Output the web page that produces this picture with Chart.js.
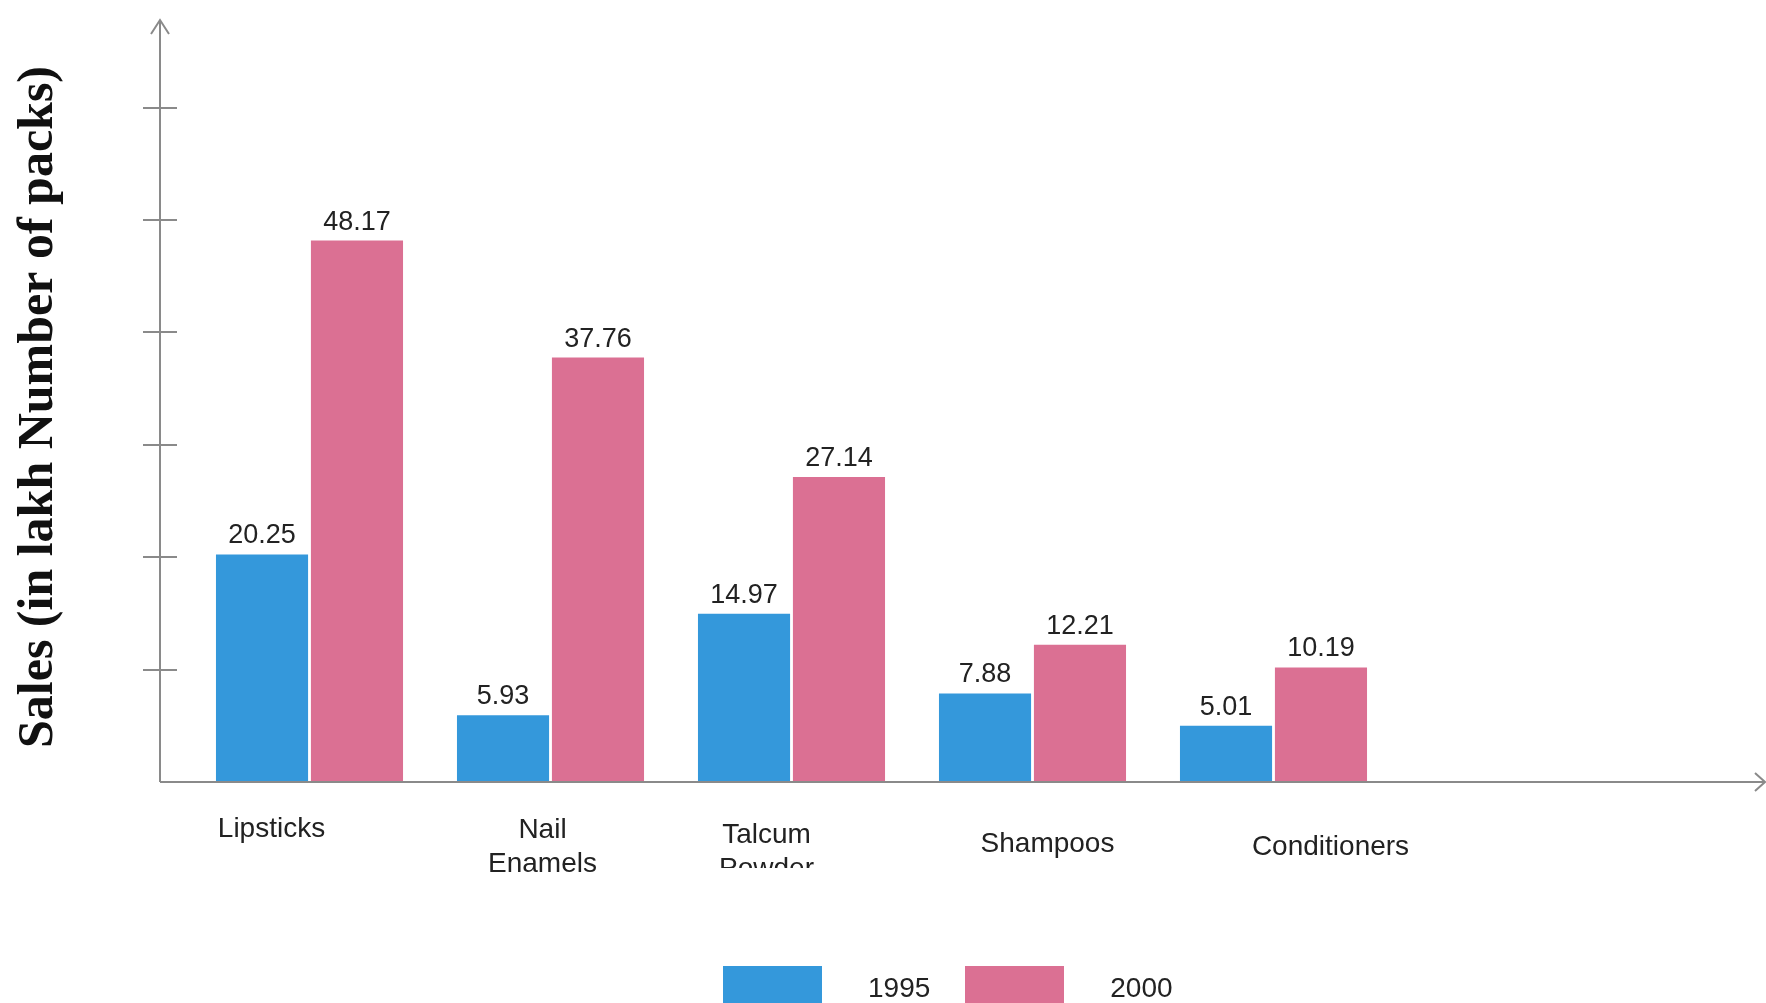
<!DOCTYPE html>
<html>
<head>
<meta charset="utf-8">
<title>Sales of cosmetics</title>
<script src="https://cdn.jsdelivr.net/npm/chart.js@4.4.0/dist/chart.umd.min.js"></script>
<style>
  html, body { margin: 0; padding: 0; background: #fff; overflow: hidden; }
  #wrap { position: relative; width: 1766px; height: 1003px; overflow: hidden; }
  #legend { position: absolute; left: 723px; top: 966px; display: flex; align-items: flex-start;
            font: 28px "Liberation Sans", Arial, sans-serif; color: #222; }
  #legend .box { width: 99px; height: 50px; }
  #legend .lbl { line-height: 44px; margin: 0 35px 0 46px; }
</style>
</head>
<body>
<div id="wrap">
  <canvas id="salesChart" width="1766" height="1003"></canvas>
  <div id="legend"></div>
</div>
<script>
  "use strict";

  // data
  const categories = ["Lipsticks", "Nail Enamels", "Talcum Powder", "Shampoos", "Conditioners"];
  const years = ["1995", "2000"];
  const sales1995 = [20.25, 5.93, 14.97, 7.88, 5.01];
  const sales2000 = [48.17, 37.76, 27.14, 12.21, 10.19];
  const yTicks = [10, 20, 30, 40, 50, 60];
  const yTitle = "Sales (in lakh Number of packs)";

  const colors = ["#3498db", "#db7093"];

  // the category labels are placed by hand in the original, nudged from the bar centres
  const labelDx = [-38, -8, -25, 15, 57];
  const labelY = [829, 830, 835, 844, 847];
  const labelClip = [null, null, 868, null, null];

  const axisX = 160;

  const drawExtras = {
    id: 'drawExtras',
    afterDraw(chart) {
      const { ctx, chartArea, scales: { x, y } } = chart;
      const y0 = y.getPixelForValue(0);
      const W = chart.width;

      ctx.save();
      ctx.strokeStyle = '#8a8a8a';
      ctx.lineWidth = 2;

      // y axis with arrow
      ctx.beginPath();
      ctx.moveTo(axisX, y0);
      ctx.lineTo(axisX, chartArea.top);
      ctx.moveTo(axisX - 9, chartArea.top + 14);
      ctx.lineTo(axisX, chartArea.top);
      ctx.lineTo(axisX + 9, chartArea.top + 14);
      ctx.stroke();

      // x axis with arrow
      ctx.beginPath();
      ctx.moveTo(axisX, y0);
      ctx.lineTo(W - 1, y0);
      ctx.moveTo(W - 11, y0 - 9);
      ctx.lineTo(W - 1, y0);
      ctx.lineTo(W - 11, y0 + 9);
      ctx.stroke();

      // tick marks crossing the y axis
      ctx.beginPath();
      yTicks.forEach(v => {
        const py = Math.round(y.getPixelForValue(v));
        ctx.moveTo(axisX - 17, py);
        ctx.lineTo(axisX + 17, py);
      });
      ctx.stroke();

      // value labels
      ctx.fillStyle = '#222';
      ctx.font = '27px "Liberation Sans", Arial, sans-serif';
      ctx.textAlign = 'center';
      ctx.textBaseline = 'alphabetic';
      chart.data.datasets.forEach((ds, di) => {
        chart.getDatasetMeta(di).data.forEach((bar, i) => {
          ctx.fillText(ds.data[i].toFixed(2), bar.x, bar.y - 11);
        });
      });

      // category labels
      ctx.font = '28px "Liberation Sans", Arial, sans-serif';
      ctx.textBaseline = 'middle';
      categories.forEach((name, i) => {
        const cx = x.getPixelForValue(i) + labelDx[i];
        ctx.save();
        if (labelClip[i]) {
          ctx.beginPath();
          ctx.rect(cx - 150, 0, 300, labelClip[i]);
          ctx.clip();
        }
        name.split(' ').forEach((line, li) => {
          ctx.fillText(line, cx, labelY[i] + li * 34);
        });
        ctx.restore();
      });

      // y axis title
      ctx.save();
      ctx.translate(52, 407);
      ctx.rotate(-Math.PI / 2);
      ctx.fillStyle = '#111';
      ctx.font = 'bold 50px "Liberation Serif", "Times New Roman", serif';
      ctx.textAlign = 'center';
      ctx.textBaseline = 'alphabetic';
      ctx.fillText(yTitle, 0, 0);
      ctx.restore();

      ctx.restore();
    }
  };

  try {
    const ctx = document.getElementById("salesChart");
    if (ctx) {
      new Chart(ctx, {
        type: 'bar',
        data: {
          labels: categories,
          datasets: [
            { label: years[0], data: sales1995, backgroundColor: colors[0], borderWidth: 0 },
            { label: years[1], data: sales2000, backgroundColor: colors[1], borderWidth: 0 }
          ]
        },
        options: {
          responsive: false,
          animation: false,
          layout: { padding: { left: 189, right: 372, top: 20, bottom: 221 } },
          datasets: { bar: { categoryPercentage: 0.788, barPercentage: 0.97 } },
          plugins: {
            legend: { display: false },
            tooltip: { enabled: false }
          },
          scales: {
            x: { display: false, offset: true },
            y: { display: false, min: 0, max: 67.8 }
          }
        },
        plugins: [drawExtras]
      });
    }

    // legend
    const legend = document.getElementById("legend");
    years.forEach((yr, i) => {
      const box = document.createElement('div');
      box.className = 'box';
      box.style.background = colors[i];
      const lbl = document.createElement('div');
      lbl.className = 'lbl';
      lbl.textContent = yr;
      legend.appendChild(box);
      legend.appendChild(lbl);
    });
  } catch (error) {
    console.log(error);
  }
</script>
</body>
</html>
